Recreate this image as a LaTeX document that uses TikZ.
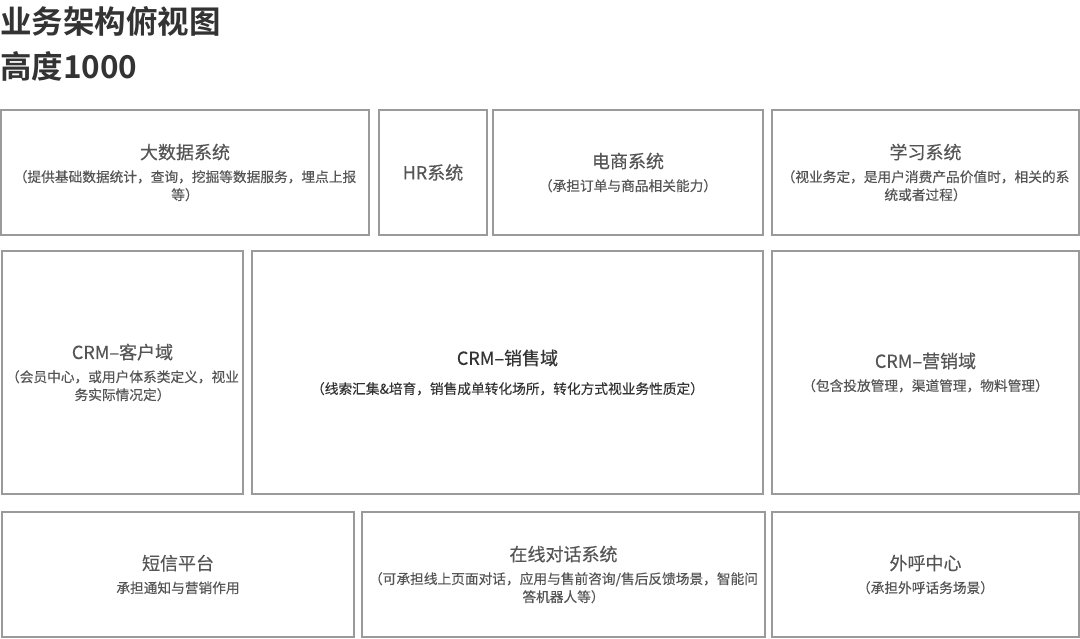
\documentclass[tikz,border=0pt]{standalone}
\usepackage{fontspec}
\setmainfont{Noto Sans CJK SC}[BoldFont={Noto Sans CJK SC Bold}]
\newfontfamily\boxfont{Noto Sans CJK SC}[FakeBold=0.35]

\definecolor{boxline}{HTML}{9A9A9A}
\definecolor{titletext}{HTML}{555555}
\definecolor{headtext}{HTML}{333333}

\newcommand\systitle[1]{{\fontsize{18}{20}\selectfont #1}}

\begin{document}
\begin{tikzpicture}[x=1pt,y=-1pt]

  \tikzstyle{region} = [draw=boxline, line width=1.2]
  \tikzstyle{boxtext} = [text=titletext, align=center, font=\boxfont\fontsize{13.7}{18}\selectfont]
  \tikzstyle{headline} = [text=headtext, anchor=base west, inner sep=0, font=\fontsize{31.5}{36}\selectfont\bfseries]

  \useasboundingbox (0,0) rectangle (1080,638);

  \node[headline] (head1) at (0,33) {业务架构俯视图};
  \node[headline] (head2) at (0,78) {高度1000};

  % top row
  \draw[region] (1,110) rectangle (369,235) node[midway,boxtext] (bigdata)
    {\systitle{大数据系统}\\[5pt]（提供基础数据统计，查询，挖掘等数据服务，埋点上报\\等）};
  \draw[region] (379,110) rectangle (487,235) node[midway,boxtext] (hr) {\systitle{HR系统}};
  \draw[region] (493,110) rectangle (763,235) node[midway,boxtext] (ecom)
    {\systitle{电商系统}\\[5pt]（承担订单与商品相关能力）};
  \draw[region] (772,110) rectangle (1079,235) node[midway,boxtext] (learn)
    {\systitle{学习系统}\\[5pt]（视业务定，是用户消费产品价值时，相关的系\\统或者过程）};

  % crm row
  \draw[region] (2,251) rectangle (243,494) node[midway,boxtext] (crmcust)
    {\systitle{CRM–客户域}\\[5pt]（会员中心，或用户体系类定义，视业\\务实际情况定）};
  \draw[region] (252,251) rectangle (763,494) node[midway,boxtext,text=headtext] (crmsales)
    {\systitle{CRM–销售域}\\[11pt]（线索汇集\&培育，销售成单转化场所，转化方式视业务性质定）};
  \draw[region] (772,251) rectangle (1079,494) node[midway,boxtext] (crmmkt)
    {\systitle{CRM–营销域}\\[5pt]（包含投放管理，渠道管理，物料管理）};

  % bottom row
  \draw[region] (2,512) rectangle (354,637) node[midway,boxtext] (sms)
    {\systitle{短信平台}\\[5pt]承担通知与营销作用};
  \draw[region] (362,512) rectangle (765,637) node[midway,boxtext] (chat)
    {\systitle{在线对话系统}\\[5pt]（可承担线上页面对话，应用与售前咨询/售后反馈场景，智能问\\答机器人等）};
  \draw[region] (772,512) rectangle (1079,637) node[midway,boxtext] (callctr)
    {\systitle{外呼中心}\\[5pt]（承担外呼话务场景）};

\end{tikzpicture}
\end{document}
